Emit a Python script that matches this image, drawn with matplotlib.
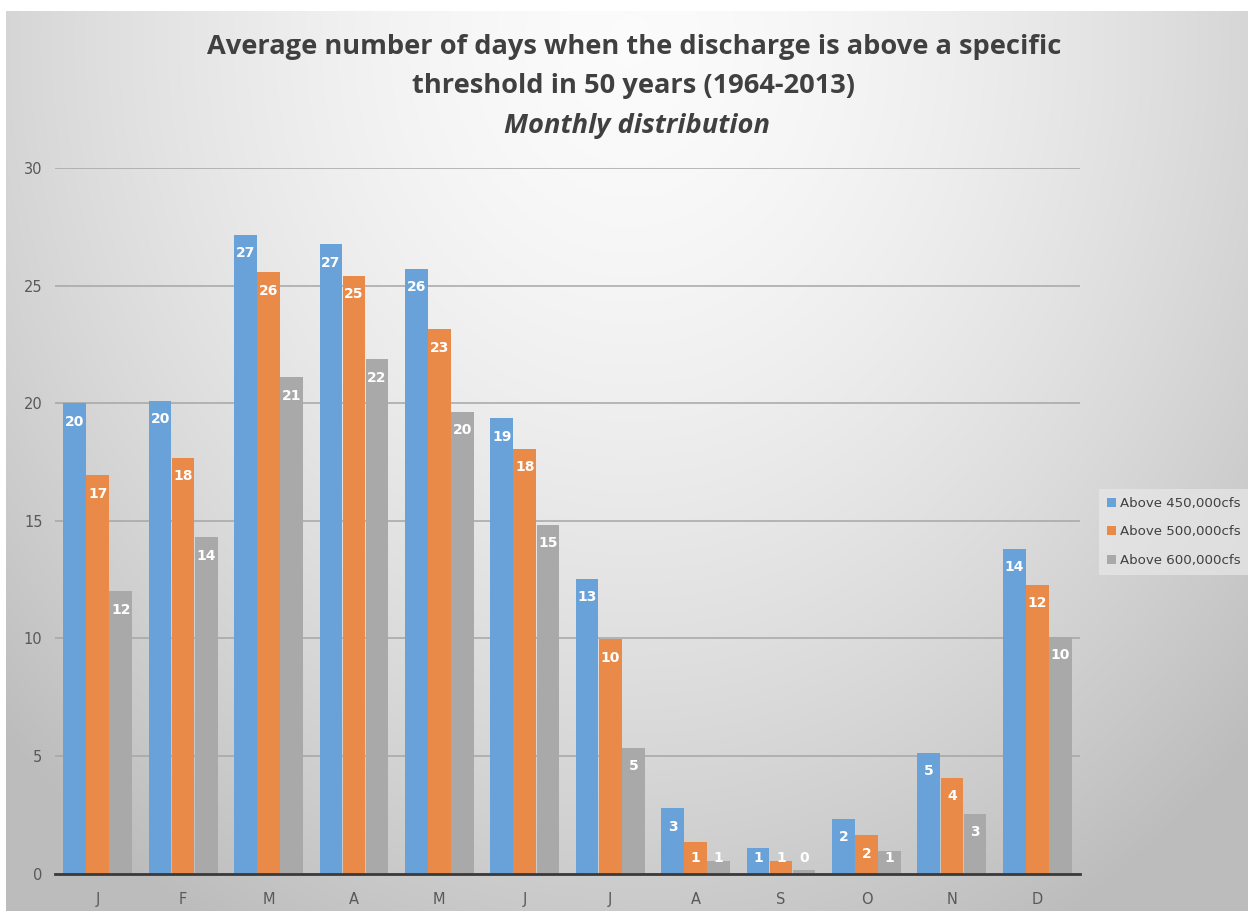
import numpy as np
import matplotlib
matplotlib.use("Agg")
import matplotlib.pyplot as plt

# ── Data ──────────────────────────────────────────────────────────────────────

months = ["J", "F", "M", "A", "M", "J", "J", "A", "S", "O", "N", "D"]
above_450k = [20.0, 20.1, 27.15, 26.75, 25.7, 19.35, 12.52, 2.77, 1.1, 2.32, 5.14, 13.8]
above_500k = [16.93, 17.68, 25.56, 25.42, 23.14, 18.06, 9.96, 1.36, 0.54, 1.62, 4.08, 12.27]
above_600k = [12.0, 14.3, 21.1, 21.86, 19.63, 14.83, 5.33, 0.53, 0.17, 0.95, 2.55, 10.06]

series_names = ["Above 450,000cfs", "Above 500,000cfs", "Above 600,000cfs"]
series_colors = ["#68a2d8", "#e98a49", "#a9a9a9"]

title_lines = [
    "Average number of days when the discharge is above a specific",
    "threshold in 50 years (1964-2013)",
]
subtitle = "Monthly distribution"

# ── Figure + gradient background ─────────────────────────────────────────────

W, H = 1248, 911
fig = plt.figure(figsize=(W / 100, H / 100), dpi=100)

bg_ax = fig.add_axes([0, 0, 1, 1], zorder=-10)
yy, xx = np.mgrid[0:H, 0:W]
dist = np.sqrt((xx - 630) ** 2 + ((yy - 40) * 0.85) ** 2)
shade = np.clip(0.985 - 0.21 * (dist / 780.0) ** 1.6, 0.74, 1.0)
img = np.dstack([shade, shade, shade])
img[:11, :] = 1.0
img[:, :6] = 1.0
bg_ax.imshow(img, aspect="auto", extent=[0, 1, 0, 1], origin="upper")
bg_ax.axis("off")

# ── Bars ──────────────────────────────────────────────────────────────────────

ax = fig.add_axes([55 / W, 37.5 / H, 1025 / W, 705.5 / H])
ax.patch.set_alpha(0)

x = np.arange(len(months))
step = 0.27
width = 0.265
all_series = [above_450k, above_500k, above_600k]

for i, (vals, name, color) in enumerate(zip(all_series, series_names, series_colors)):
    xpos = x + (i - 1) * step
    ax.bar(xpos, vals, width=width, color=color, label=name, zorder=3,
           edgecolor="none")
    for xp, v in zip(xpos, vals):
        ly = max(v - 0.78, 0.66)
        ax.text(xp, ly, f"{v:.0f}", ha="center", va="center", color="white",
                fontsize=10, fontweight="bold", zorder=4)

ax.set_xlim(-0.5, len(months) - 0.5)
ax.set_ylim(0, 30)
ax.set_yticks([0, 5, 10, 15, 20, 25, 30])
ax.set_xticks(x)
ax.set_xticklabels(months)
ax.yaxis.grid(True, color="#a6a6a6", linewidth=1.1, zorder=1)
ax.set_axisbelow(True)
for side in ["top", "right", "left"]:
    ax.spines[side].set_visible(False)
ax.spines["bottom"].set_color("#3a3a3a")
ax.spines["bottom"].set_linewidth(2)
ax.spines["bottom"].set_zorder(5)
ax.tick_params(axis="both", length=0, colors="#595959", labelsize=10.5)
ax.tick_params(axis="y", pad=9)
ax.tick_params(axis="x", pad=13)

# ── Legend ────────────────────────────────────────────────────────────────────

leg = fig.legend(loc="center left", bbox_to_anchor=(1099 / W, 1 - 532 / H),
                 frameon=True, fontsize=9.6, handlelength=0.65, handleheight=0.65,
                 handletextpad=0.3, labelspacing=1.15, borderpad=0.6,
                 borderaxespad=0)
leg.get_frame().set_facecolor("#e8e8e8")
leg.get_frame().set_edgecolor("none")
leg.get_frame().set_alpha(0.7)
leg.get_frame().set_boxstyle("square", pad=0)
for t in leg.get_texts():
    t.set_color("#404040")

# ── Title ─────────────────────────────────────────────────────────────────────

fig.text(634 / W, 1 - 47 / H, title_lines[0], ha="center", va="center",
         fontsize=19.6, fontweight="bold", color="#404040", family="Open Sans")
fig.text(634 / W, 1 - 86 / H, title_lines[1], ha="center", va="center",
         fontsize=19.6, fontweight="bold", color="#404040", family="Open Sans")
fig.text(637 / W, 1 - 126 / H, subtitle, ha="center", va="center",
         fontsize=19.6, fontweight="bold", fontstyle="italic", color="#404040",
         family="Open Sans")

fig.savefig("out.png", dpi=100)
